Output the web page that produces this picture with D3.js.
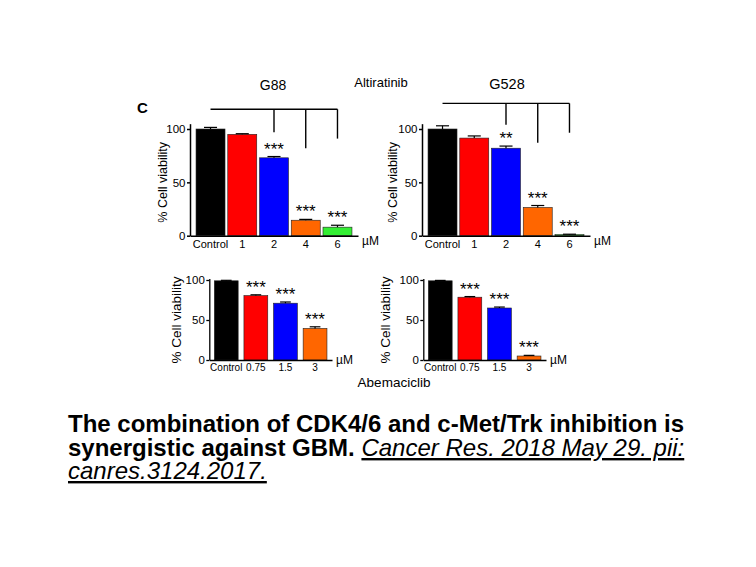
<!DOCTYPE html>
<html>
<head>
<meta charset="utf-8">
<script src="https://cdn.jsdelivr.net/npm/d3@7"></script>
<style>
  body { margin: 0; background: #fff; }
  svg { display: block; font-family: "Liberation Sans", Arial, sans-serif; }
</style>
</head>
<body>
<svg id="chart" width="756" height="567"></svg>
<script>
// Altiratinib doses (uM) and viability (% of control)
const altiDoses = ["Control", "1", "2", "4", "6"];
const altiColors = ["#000000", "#ff0000", "#0000ff", "#ff6600", "#33ee33"];

const g88Alti = [100, 95, 73, 14.5, 8];
const g88AltiErr = [1.5, 0.6, 1.2, 0.8, 1.8];
const g88AltiStars = ["", "", "***", "***", "***"];
const g88Bracket = { top: 118.5, ends: [97, 82, 91] };

const g528Alti = [100, 91.5, 82, 26.5, 1];
const g528AltiErr = [3, 2, 2, 1.8, 0.4];
const g528AltiStars = ["", "", "**", "***", "***"];
const g528Bracket = { top: 124, ends: [104, 87, 96.5] };

// Abemaciclib doses (uM)
const abemaDoses = ["Control", "0.75", "1.5", "3"];
const abemaColors = ["#000000", "#ff0000", "#0000ff", "#ff6600"];

const g88Abema = [99, 80.5, 71, 39.5];
const g88AbemaErr = [0.6, 1, 1.5, 2];
const g88AbemaStars = ["", "***", "***", "***"];

const g528Abema = [99, 78.5, 65, 5];
const g528AbemaErr = [0.5, 0.8, 1.2, 0.8];
const g528AbemaStars = ["", "***", "***", "***"];

const svg = d3.select("#chart");

function panel(o) {
  const g = svg.append("g");

  const x = d3.scaleBand()
    .domain(o.doses)
    .range([o.x0, o.x1])
    .paddingInner(o.padIn)
    .paddingOuter(o.padOut)
    .align(0.5);

  const y = d3.scaleLinear()
    .domain([0, o.yMax])
    .range([o.y0, o.y0 - (o.y0 - o.y100) * o.yMax / 100]);

  const rows = o.doses.map((d, i) => ({
    dose: d, v: o.values[i], e: o.errors[i], c: o.colors[i], s: o.stars[i]
  }));

  // bars
  g.selectAll("rect.bar")
    .data(rows)
    .enter().append("rect")
    .attr("class", "bar")
    .attr("x", d => x(d.dose))
    .attr("y", d => y(d.v))
    .attr("width", x.bandwidth())
    .attr("height", d => y(0) - y(d.v))
    .attr("fill", d => d.c)
    .attr("stroke", "#222")
    .attr("stroke-width", 0.6);

  // error bars (upper half only)
  const cap = x.bandwidth() * 0.45;
  const err = g.append("g").attr("stroke", "#000").attr("stroke-width", 1.2);
  err.selectAll("line.stem")
    .data(rows)
    .enter().append("line")
    .attr("x1", d => x(d.dose) + x.bandwidth() / 2)
    .attr("x2", d => x(d.dose) + x.bandwidth() / 2)
    .attr("y1", d => y(d.v))
    .attr("y2", d => y(d.v + d.e));
  err.selectAll("line.cap")
    .data(rows)
    .enter().append("line")
    .attr("x1", d => x(d.dose) + x.bandwidth() / 2 - cap / 2)
    .attr("x2", d => x(d.dose) + x.bandwidth() / 2 + cap / 2)
    .attr("y1", d => y(d.v + d.e))
    .attr("y2", d => y(d.v + d.e));

  // significance stars
  g.selectAll("text.star")
    .data(rows.filter(d => d.s))
    .enter().append("text")
    .attr("x", d => x(d.dose) + x.bandwidth() / 2)
    .attr("y", d => y(d.v + d.e) - 2)
    .attr("text-anchor", "middle")
    .attr("font-size", 17)
    .text(d => d.s);

  // axes
  const yAxis = g.append("g")
    .attr("transform", `translate(${o.x0},0)`)
    .call(d3.axisLeft(y).tickValues([0, 50, 100]).tickSize(3).tickSizeOuter(0).tickPadding(1.5));
  yAxis.selectAll("text").attr("font-size", o.yTickFont).attr("font-family", null).attr("fill", "#000");
  yAxis.select(".domain").attr("stroke-width", o.axisW);
  yAxis.selectAll(".tick line").attr("stroke-width", o.axisW);

  const xAxis = g.append("g")
    .attr("transform", `translate(0,${o.y0})`)
    .call(d3.axisBottom(x).tickSize(0).tickSizeOuter(0).tickPadding(o.xPad));
  xAxis.selectAll("text").attr("font-size", o.xTickFont).attr("font-family", null).attr("fill", "#000");
  xAxis.select(".domain").attr("stroke-width", o.axisW);

  g.append("text")
    .attr("x", o.x1 + 4)
    .attr("y", o.y0 + o.unitDy)
    .attr("font-size", 12)
    .text("µM");

  g.append("text")
    .attr("transform", `translate(${o.x0 + o.labelDx},${(y(0) + y(100)) / 2}) rotate(-90)`)
    .attr("text-anchor", "middle")
    .attr("dominant-baseline", "central")
    .attr("font-size", o.labelFont)
    .text("% Cell viability");

  // comparison bracket
  if (o.bracket) {
    const cx = d => x(d) + x.bandwidth() / 2;
    const b = g.append("g").attr("stroke", "#000").attr("stroke-width", 1.4).attr("fill", "none");
    b.append("line")
      .attr("x1", cx(o.doses[0])).attr("x2", cx(o.doses[o.doses.length - 1]))
      .attr("y1", y(o.bracket.top)).attr("y2", y(o.bracket.top));
    o.doses.slice(2).forEach((d, i) => {
      b.append("line")
        .attr("x1", cx(d)).attr("x2", cx(d))
        .attr("y1", y(o.bracket.top)).attr("y2", y(o.bracket.ends[i]));
    });
  }
}

const topRow = { y0: 235.7, y100: 129, yMax: 105, padIn: 0.087, padOut: 0.19,
  xTickFont: 11, yTickFont: 11.5, xPad: 5, axisW: 1.5, unitDy: 9, labelFont: 12.5 };
const bottomRow = { y0: 360, y100: 280, yMax: 102, padIn: 0.195, padOut: 0.17,
  xTickFont: 10, yTickFont: 11.5, xPad: 4, axisW: 1.3, unitDy: 4, labelFont: 13.5 };

panel({ ...topRow, x0: 190, x1: 358, labelDx: -27, doses: altiDoses, colors: altiColors,
  values: g88Alti, errors: g88AltiErr, stars: g88AltiStars, bracket: g88Bracket });
panel({ ...topRow, x0: 422, x1: 590, labelDx: -29, doses: altiDoses, colors: altiColors,
  values: g528Alti, errors: g528AltiErr, stars: g528AltiStars, bracket: g528Bracket });
panel({ ...bottomRow, x0: 209.3, x1: 332, labelDx: -32.5, doses: abemaDoses, colors: abemaColors,
  values: g88Abema, errors: g88AbemaErr, stars: g88AbemaStars });
panel({ ...bottomRow, x0: 423.3, x1: 546, labelDx: -38, doses: abemaDoses, colors: abemaColors,
  values: g528Abema, errors: g528AbemaErr, stars: g528AbemaStars });

// headings
svg.append("text").attr("x", 137).attr("y", 113).attr("font-size", 15).attr("font-weight", "bold").text("C");
svg.append("text").attr("x", 273).attr("y", 90).attr("font-size", 14).attr("text-anchor", "middle").text("G88");
svg.append("text").attr("x", 507).attr("y", 89).attr("font-size", 14.5).attr("text-anchor", "middle").text("G528");
svg.append("text").attr("x", 381).attr("y", 87).attr("font-size", 13).attr("text-anchor", "middle").text("Altiratinib");
svg.append("text").attr("x", 394).attr("y", 387).attr("font-size", 13.5).attr("text-anchor", "middle").text("Abemaciclib");

// caption
const caption = svg.append("text").attr("font-size", 24).attr("fill", "#000");
caption.append("tspan").attr("x", 68).attr("y", 432).attr("font-weight", "bold")
  .text("The combination of CDK4/6 and c-Met/Trk inhibition is");
caption.append("tspan").attr("x", 68).attr("y", 456).attr("font-weight", "bold")
  .text("synergistic against GBM. ");
caption.append("tspan").attr("font-style", "italic").style("text-decoration", "underline")
  .text("Cancer Res. 2018 May 29. pii:");
caption.append("tspan").attr("x", 68).attr("y", 479).attr("font-style", "italic").style("text-decoration", "underline")
  .text("canres.3124.2017.");
</script>
</body>
</html>
